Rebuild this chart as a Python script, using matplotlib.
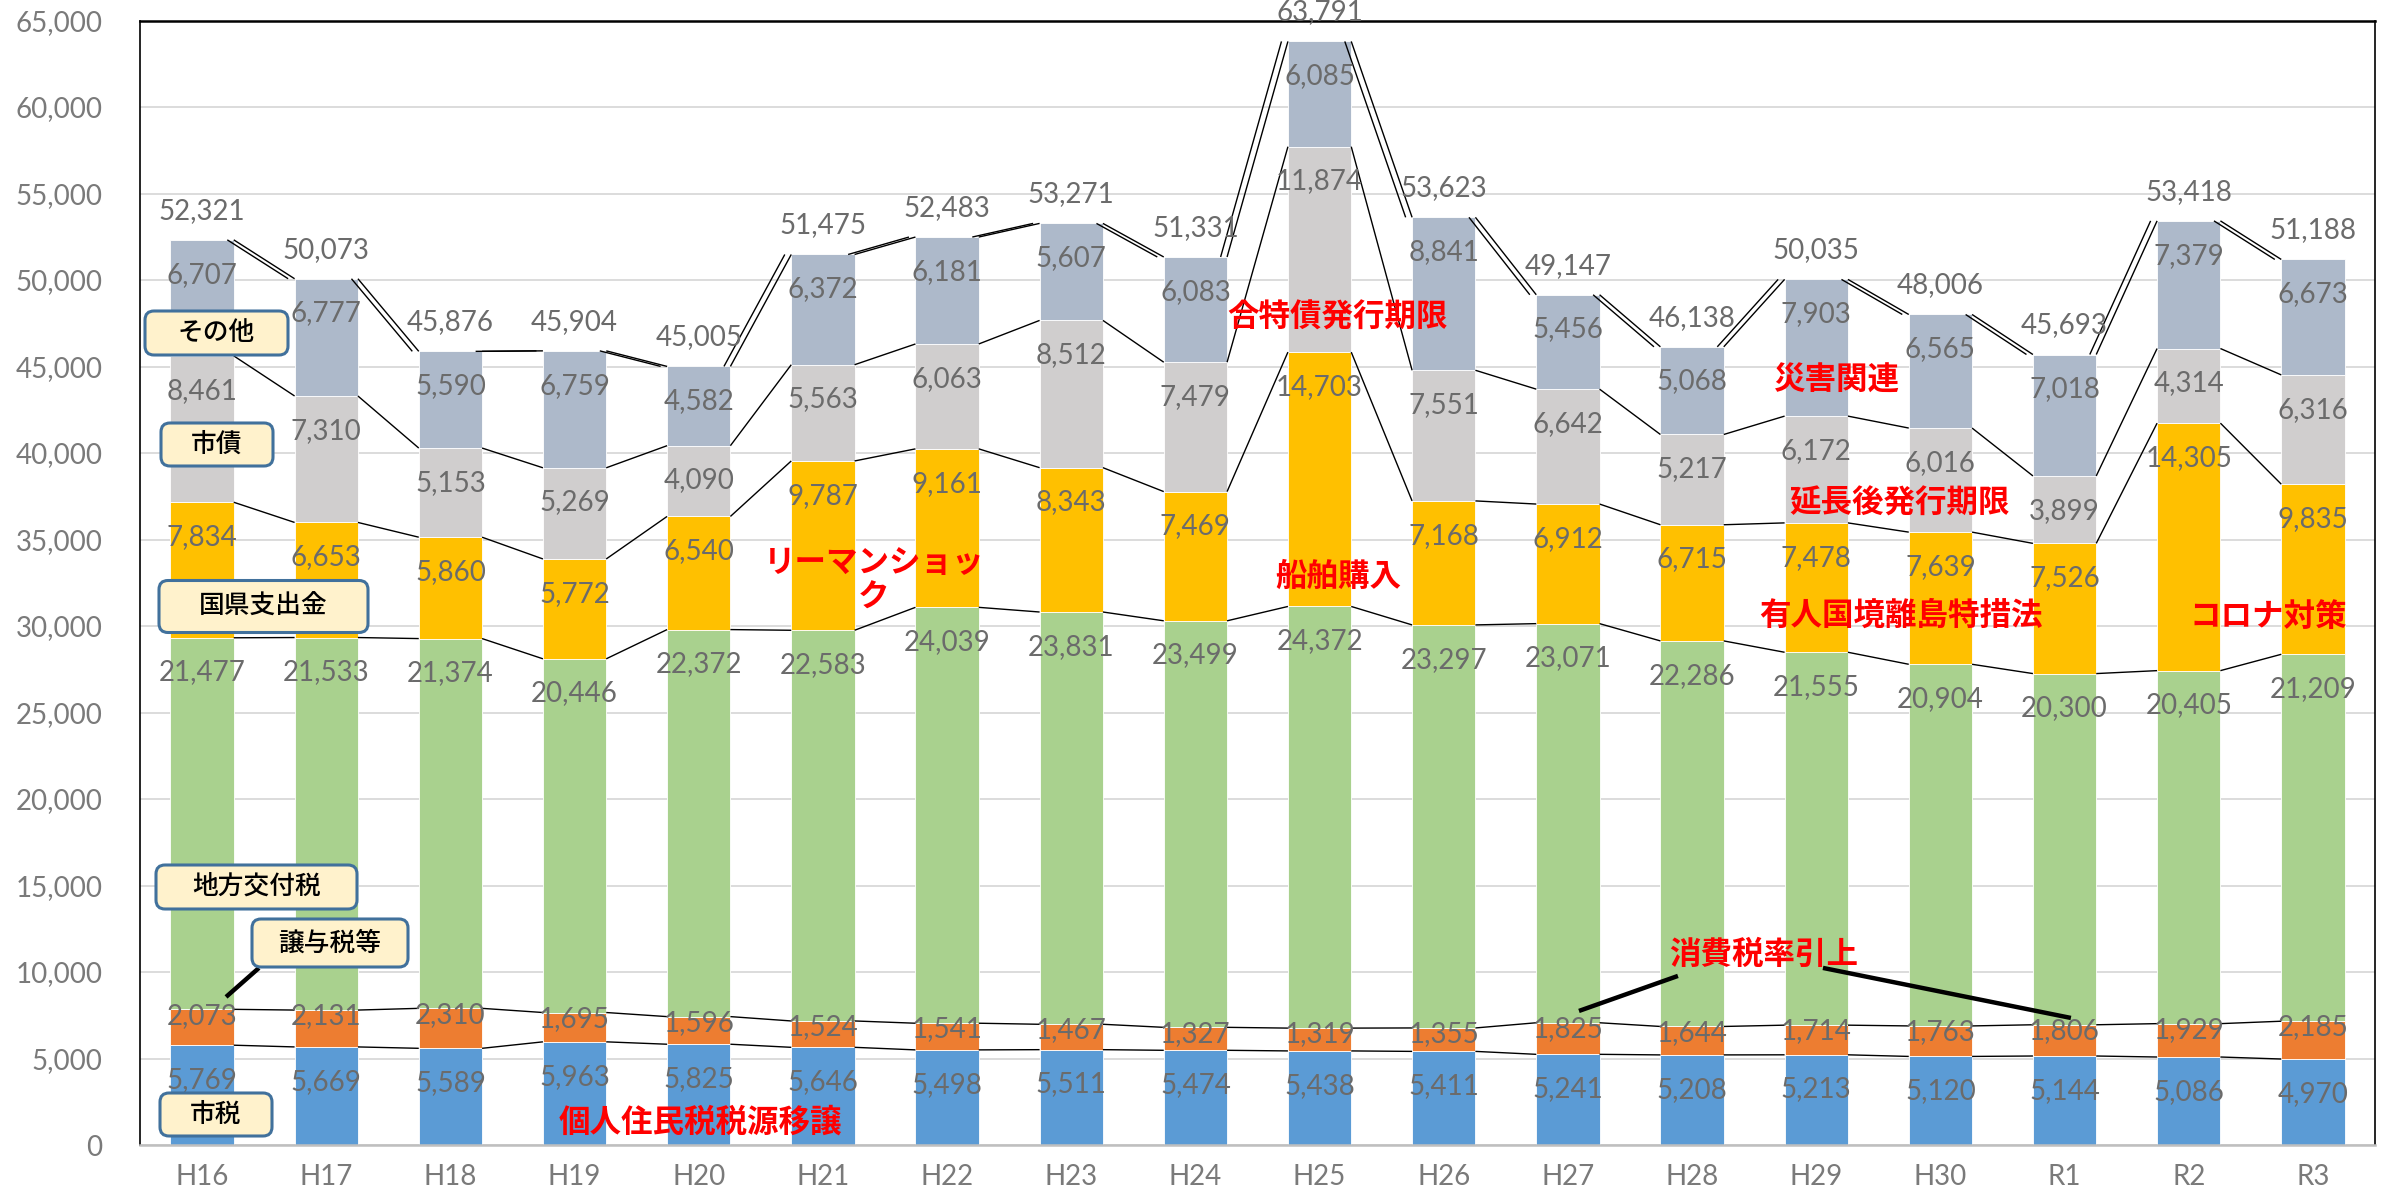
import numpy as np
import matplotlib
matplotlib.use('Agg')
import matplotlib.pyplot as plt
from matplotlib.patches import FancyBboxPatch
from matplotlib.collections import LineCollection
from matplotlib.ticker import FuncFormatter, MultipleLocator
from matplotlib.transforms import IdentityTransform

# 歳入の推移（百万円）
years = ['H16', 'H17', 'H18', 'H19', 'H20', 'H21', 'H22', 'H23', 'H24',
         'H25', 'H26', 'H27', 'H28', 'H29', 'H30', 'R1', 'R2', 'R3']
city_tax = [5769, 5669, 5589, 5963, 5825, 5646, 5498, 5511, 5474,
            5438, 5411, 5241, 5208, 5213, 5120, 5144, 5086, 4970]
transfer_tax = [2073, 2131, 2310, 1695, 1596, 1524, 1541, 1467, 1327,
                1319, 1355, 1825, 1644, 1714, 1763, 1806, 1929, 2185]
local_alloc_tax = [21477, 21533, 21374, 20446, 22372, 22583, 24039, 23831, 23499,
                   24372, 23297, 23071, 22286, 21555, 20904, 20300, 20405, 21209]
subsidies = [7834, 6653, 5860, 5772, 6540, 9787, 9161, 8343, 7469,
             14703, 7168, 6912, 6715, 7478, 7639, 7526, 14305, 9835]
city_bonds = [8461, 7310, 5153, 5269, 4090, 5563, 6063, 8512, 7479,
              11874, 7551, 6642, 5217, 6172, 6016, 3899, 4314, 6316]
others = [6707, 6777, 5590, 6759, 4582, 6372, 6181, 5607, 6083,
          6085, 8841, 5456, 5068, 7903, 6565, 7018, 7379, 6673]
# totals as printed (rounded separately)
totals = [52321, 50073, 45876, 45904, 45005, 51475, 52483, 53271, 51331,
          63791, 53623, 49147, 46138, 50035, 48006, 45693, 53418, 51188]

series_names = ['市税', '譲与税等', '地方交付税', '国県支出金', '市債', 'その他']
series_colors = ['#5B9BD5', '#ED7D31', '#A9D18E', '#FFC000', '#D0CECE', '#ADB9CA']

JP = ['Noto Sans CJK JP', 'DejaVu Sans']
NUM = ['Lato', 'DejaVu Sans']
GRAY = '#6B6B6B'
W, H = 2394, 1198


def label_box(fig, text, cx, cy, w, h):
    # box given in picture pixels from the top-left corner
    box = FancyBboxPatch((cx - w / 2, H - cy - h / 2), w, h,
                         boxstyle='round,pad=0,rounding_size=9',
                         facecolor='#FFF2CC', edgecolor='#41719C', linewidth=2.2,
                         transform=IdentityTransform(), zorder=5)
    fig.add_artist(box)
    fig.text(cx / W, 1 - cy / H, text, ha='center', va='center', fontsize=18.5,
             family=JP, fontweight='medium', color='black', zorder=6)


def main():
    data = np.array([city_tax, transfer_tax, local_alloc_tax, subsidies, city_bonds, others])
    tops = np.cumsum(data, axis=0)
    x = np.arange(len(years))
    bw = 0.51

    fig = plt.figure(figsize=(W / 100, H / 100), dpi=100)
    ax = fig.add_axes([140 / W, 1 - 1145 / H, 2235 / W, 1124.5 / H])

    bottom = np.zeros(len(years))
    for vals, name, col in zip(data, series_names, series_colors):
        ax.bar(x, vals, bw, bottom=bottom, color=col, edgecolor='white',
               linewidth=0.6, label=name, zorder=2)
        bottom += vals

    # series lines between neighbouring bars
    segs = []
    for lvl in tops:
        for i in range(len(years) - 1):
            segs.append([(x[i] + bw / 2, lvl[i]), (x[i + 1] - bw / 2, lvl[i + 1])])
    for i in range(len(years) - 1):
        segs.append([(x[i] + bw / 2 - 0.052, tops[-1][i]), (x[i + 1] - bw / 2 - 0.052, tops[-1][i + 1])])
    ax.add_collection(LineCollection(segs, colors='black', linewidths=1.0, zorder=3))

    # data labels
    for k, (vals, lvl) in enumerate(zip(data, tops)):
        dy = -4.5 if k == 1 else -25
        for i in range(len(years)):
            ax.annotate(f'{vals[i]:,}', xy=(x[i], lvl[i]), xytext=(0, dy),
                        textcoords='offset points', ha='center', va='center',
                        fontsize=20, family=NUM, color=GRAY, zorder=4)
    for i in range(len(years)):
        ax.annotate(f'{totals[i]:,}', xy=(x[i], tops[-1][i]), xytext=(0, 21),
                    textcoords='offset points', ha='center', va='center',
                    fontsize=20, family=NUM, color=GRAY, zorder=4)

    # axes styling
    ax.set_xlim(-0.5, len(years) - 0.5)
    ax.set_ylim(0, 65000)
    ax.yaxis.set_major_locator(MultipleLocator(5000))
    ax.yaxis.set_major_formatter(FuncFormatter(lambda v, p: f'{int(v):,}'))
    ax.set_xticks(x)
    ax.set_xticklabels(years)
    ax.yaxis.grid(True, color='#D9D9D9', linewidth=1.3)
    ax.set_axisbelow(True)
    ax.tick_params(axis='both', length=0, labelsize=20, labelcolor='#7A7A7A')
    ax.tick_params(axis='y', pad=27)
    ax.tick_params(axis='x', pad=14)
    for lab in ax.get_xticklabels() + ax.get_yticklabels():
        lab.set_family(NUM)
    for side in ['left', 'right']:
        ax.spines[side].set_color('black')
        ax.spines[side].set_linewidth(1.2)
    ax.spines['top'].set_color('black')
    ax.spines['top'].set_linewidth(1.8)
    ax.spines['bottom'].set_color('#BFBFBF')
    ax.spines['bottom'].set_linewidth(1.8)

    # red notes
    red = dict(color='#FF0000', fontsize=22.7, family=JP, fontweight='bold',
               ha='center', va='center', zorder=6)
    ax.text(9.148, 47825, '合特債発行期限', **red)
    ax.text(13.167, 44182, '災害関連', **red)
    ax.text(13.674, 37069, '延長後発行期限', **red)
    ax.text(13.682, 30592, '有人国境離島特措法', **red)
    ax.text(16.638, 30534, 'コロナ対策', **red)
    ax.text(9.148, 32847, '船舶購入', **red)
    ax.text(5.411, 32645, 'リーマンショッ\nク', linespacing=1.1, **red)
    ax.text(4.01, 1272, '個人住民税税源移譲', **red)
    ax.text(12.579, 10988, '消費税率引上', **red)
    ax.plot([11.886, 11.089], [9773, 7749], color='black', lw=3.2, zorder=6, solid_capstyle='butt')
    ax.plot([13.054, 15.051], [10236, 7344], color='black', lw=3.2, zorder=6, solid_capstyle='butt')
    ax.plot([0.458, 0.193], [10236, 8559], color='black', lw=3.2, zorder=6, solid_capstyle='butt')

    # series name boxes
    label_box(fig, 'その他', 216.5, 333, 143, 44)
    label_box(fig, '市債', 217, 444.5, 112, 43)
    label_box(fig, '国県支出金', 263.5, 606.5, 209, 52)
    label_box(fig, '地方交付税', 256.5, 887, 201, 44)
    label_box(fig, '譲与税等', 330, 943, 156, 48)
    label_box(fig, '市税', 216, 1114.5, 112, 43)

    fig.savefig('out.png', dpi=100)


if __name__ == '__main__':
    main()
